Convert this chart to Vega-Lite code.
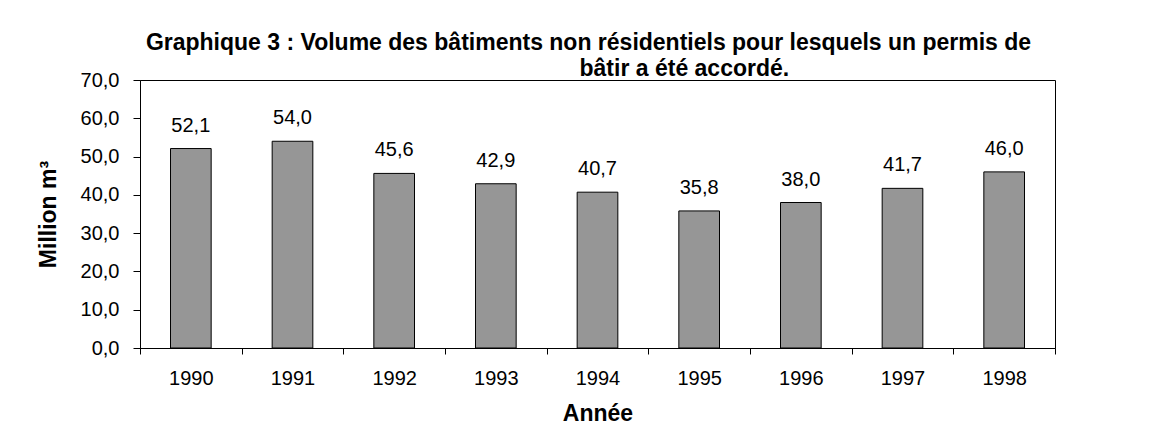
{
  "$schema": "https://vega.github.io/schema/vega-lite/v6.json",
  "autosize": "none",
  "width": 915,
  "height": 268,
  "padding": {"left": 140, "top": 80, "right": 96, "bottom": 84},
  "background": "white",
  "title": {
    "text": ["Graphique 3 : Volume des bâtiments non résidentiels pour lesquels un permis de", "\u200b\u00a0\u00a0\u00a0\u00a0\u00a0\u00a0\u00a0\u00a0\u00a0\u00a0\u00a0\u00a0\u00a0\u00a0\u00a0\u00a0\u00a0\u00a0\u00a0\u00a0\u00a0\u00a0\u00a0\u00a0\u00a0\u00a0\u00a0\u00a0\u00a0\u00a0bâtir a été accordé."],
    "font": "Liberation Sans",
    "fontSize": 23,
    "fontWeight": "bold",
    "color": "black",
    "anchor": "middle",
    "lineHeight": 26,
    "dx": -9,
    "offset": -11
  },
  "data": {
    "values": [
      {"annee": "1990", "volume": 52.1},
      {"annee": "1991", "volume": 54.0},
      {"annee": "1992", "volume": 45.6},
      {"annee": "1993", "volume": 42.9},
      {"annee": "1994", "volume": 40.7},
      {"annee": "1995", "volume": 35.8},
      {"annee": "1996", "volume": 38.0},
      {"annee": "1997", "volume": 41.7},
      {"annee": "1998", "volume": 46.0}
    ]
  },
  "encoding": {
    "x": {
      "field": "annee",
      "type": "nominal",
      "scale": {"paddingInner": 0, "paddingOuter": 0},
      "axis": {
        "title": "Année",
        "labelAngle": 0,
        "tickBand": "extent",
        "tickSize": 6,
        "labelPadding": 14,
        "titlePadding": 14
      }
    },
    "y": {
      "field": "volume",
      "type": "quantitative",
      "scale": {"domain": [0, 70], "nice": false},
      "axis": {
        "title": "Million m³",
        "values": [0, 10, 20, 30, 40, 50, 60, 70],
        "format": ".1f",
        "grid": false,
        "tickSize": 7,
        "labelPadding": 14,
        "titlePadding": 20
      }
    }
  },
  "layer": [
    {
      "mark": {"type": "bar", "width": {"band": 0.4}, "fill": "#969696", "stroke": "black", "strokeWidth": 1}
    },
    {
      "mark": {"type": "text", "baseline": "alphabetic", "dy": -17, "font": "Liberation Sans", "fontSize": 20, "color": "black"},
      "encoding": {
        "text": {"field": "volume", "type": "quantitative", "format": ".1f"}
      }
    }
  ],
  "config": {
    "locale": {"number": {"decimal": ",", "thousands": " ", "grouping": [3], "currency": ["", " €"]}},
    "view": {"stroke": "black", "strokeWidth": 1},
    "axis": {
      "labelFont": "Liberation Sans",
      "labelFontSize": 20,
      "labelColor": "black",
      "titleFont": "Liberation Sans",
      "titleFontSize": 23,
      "titleFontWeight": "bold",
      "titleColor": "black",
      "domainColor": "black",
      "tickColor": "black",
      "domainWidth": 1,
      "tickWidth": 1
    }
  }
}
